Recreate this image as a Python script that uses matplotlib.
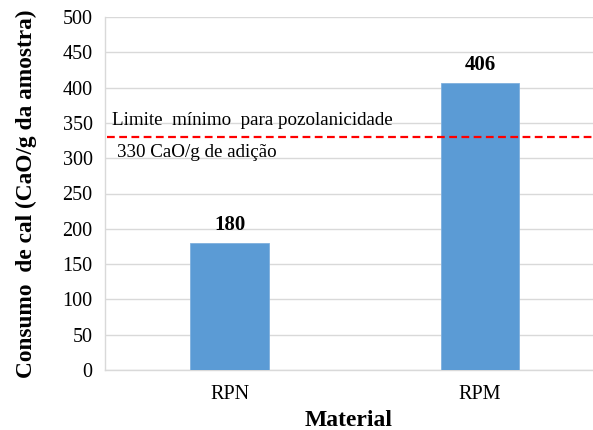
import matplotlib
matplotlib.use("Agg")
import matplotlib.pyplot as plt

categories = ["RPN", "RPM"]
values = [180, 406]
limit_value = 330
yticks = list(range(0, 501, 50))

plt.rcParams['font.family'] = ['Liberation Serif', 'DejaVu Serif']

fig = plt.figure(figsize=(5.93, 4.30), dpi=100)
ax = fig.add_axes([105/593, 1 - 370/430, 488/593, 353/430])

x = list(range(len(categories)))
ax.bar(x, values, width=0.315, color="#5b9bd5", edgecolor="#7fb0de", linewidth=0.6, zorder=3)
for xi, v in zip(x, values):
    ax.annotate(str(v), (xi, v), xytext=(0, 6), textcoords="offset points",
                ha="center", va="bottom", fontsize=15, fontweight="bold", zorder=5)

ax.set_xlim(-0.497, 1.451)
ax.set_ylim(0, 500)
ax.set_yticks(yticks)
ax.set_xticks(x)
ax.set_xticklabels(categories)
ax.tick_params(axis="both", length=0, labelsize=14.5)
ax.tick_params(axis="x", pad=11)
ax.tick_params(axis="y", pad=9)
ax.yaxis.grid(True, color="#d9d9d9", linewidth=1.0, zorder=0)
ax.set_axisbelow(True)
for s in ["top", "right"]:
    ax.spines[s].set_visible(False)
for s in ["left", "bottom"]:
    ax.spines[s].set_color("#d9d9d9")
    ax.spines[s].set_linewidth(1.0)

ax.axhline(limit_value, xmin=0.005, xmax=1.0, color="#ff0000", linestyle=(0, (3.5, 2)), linewidth=1.6, zorder=4)
ax.text(-0.469, limit_value + 23, "Limite  mínimo  para pozolanicidade", fontsize=13.7, va="center", ha="left", zorder=5)
ax.text(-0.449, limit_value - 22, "330 CaO/g de adição", fontsize=13.7, va="center", ha="left", zorder=5)

ax.set_xlabel("Material", fontsize=17, fontweight="bold", labelpad=4)
ax.set_ylabel("Consumo  de cal (CaO/g da amostra)", fontsize=16.8, fontweight="bold", labelpad=18)

fig.savefig("out.png", dpi=100)
